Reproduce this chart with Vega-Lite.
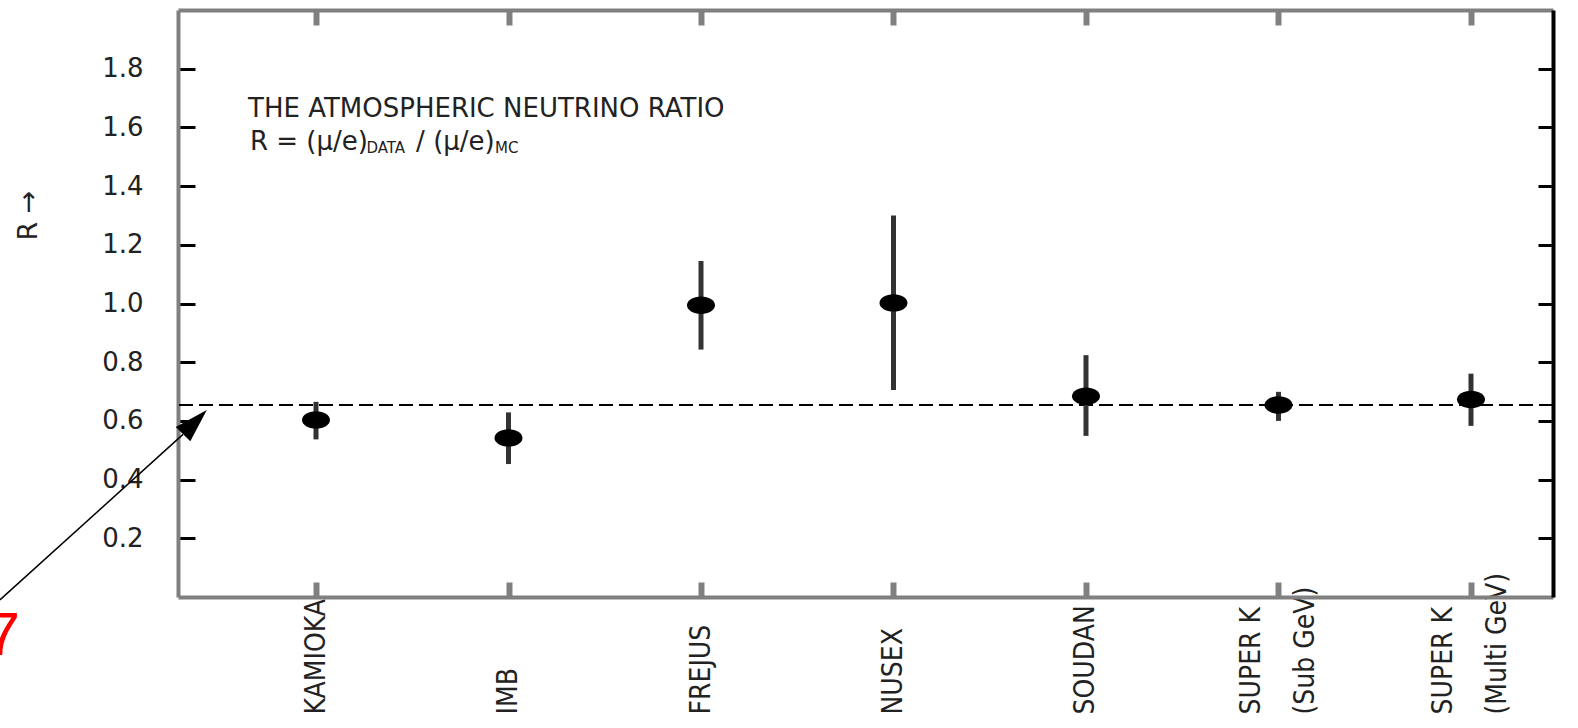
{
  "$schema": "https://vega.github.io/schema/vega-lite/v6.json",
  "width": 1375,
  "height": 587,
  "autosize": {"type": "none"},
  "padding": {"left": 178, "top": 10, "right": 25, "bottom": 131},
  "background": "white",
  "config": {"view": {"stroke": null}},
  "datasets": {
    "exp": [
      {"i": 1, "name": "KAMIOKA", "r": 0.603, "lo": 0.537, "hi": 0.665},
      {"i": 2, "name": "IMB", "r": 0.542, "lo": 0.453, "hi": 0.629},
      {"i": 3, "name": "FREJUS", "r": 0.994, "lo": 0.843, "hi": 1.145},
      {"i": 4, "name": "NUSEX", "r": 1.002, "lo": 0.705, "hi": 1.3},
      {"i": 5, "name": "SOUDAN", "r": 0.684, "lo": 0.549, "hi": 0.824},
      {"i": 6, "name": "SUPER K (Sub GeV)", "r": 0.654, "lo": 0.6, "hi": 0.699},
      {"i": 7, "name": "SUPER K (Multi GeV)", "r": 0.673, "lo": 0.583, "hi": 0.761}
    ],
    "txt": [
      {"x": 0.647, "y": 1.635, "t": "THE ATMOSPHERIC NEUTRINO RATIO"},
      {"x": 0.657, "y": 1.523, "t": "R = (μ/e)"},
      {"x": 1.52, "y": 1.523, "t": "/ (μ/e)"}
    ],
    "sub": [
      {"x": 1.262, "y": 1.512, "t": "DATA"},
      {"x": 1.93, "y": 1.512, "t": "MC"}
    ]
  },
  "resolve": {"axis": {"x": "independent", "y": "independent"}},
  "layer": [
    {
      "data": {"values": [{"ref": 0.654}]},
      "mark": {"type": "rule", "strokeDash": [14, 6], "strokeWidth": 2, "color": "black"},
      "encoding": {"y": {"field": "ref", "type": "quantitative", "axis": null, "scale": {"domain": [0, 2], "nice": false, "zero": false}}}
    },
    {
      "data": {"name": "exp"},
      "mark": {"type": "rule", "strokeWidth": 5, "color": "#333333"},
      "encoding": {
        "x": {
          "field": "i", "type": "quantitative",
          "scale": {"domain": [0.2831, 7.426], "nice": false, "zero": false},
          "axis": {
            "orient": "bottom", "values": [1, 2, 3, 4, 5, 6, 7], "title": null, "grid": false,
            "domainColor": "#808080", "domainWidth": 4,
            "tickColor": "#808080", "tickWidth": 6, "tickSize": -15,
            "labelExpr": "[['KAMIOKA'],['IMB'],['FREJUS'],['NUSEX'],['SOUDAN'],['SUPER K','(Sub GeV)'],['SUPER K','(Multi GeV)']][datum.value-1]",
            "labelAngle": 270, "labelAlign": "left", "labelBaseline": "middle", "labelPadding": 132,
            "labelOffset": {"condition": {"test": "datum.value >= 6", "value": -27}, "value": 0},
            "labelFont": "Liberation Sans Narrow, DejaVu Sans Condensed, sans-serif", "labelFontSize": 28,
            "labelColor": "#222222", "labelLineHeight": 54, "labelOverlap": false, "labelFlush": false, "labelBound": false
          }
        },
        "y": {
          "field": "lo", "type": "quantitative",
          "scale": {"domain": [0, 2], "nice": false, "zero": false},
          "axis": {
            "orient": "left", "values": [0.2, 0.4, 0.6, 0.8, 1.0, 1.2, 1.4, 1.6, 1.8], "format": ".1f", "grid": false,
            "domainColor": "#808080", "domainWidth": 4,
            "tickColor": "black", "tickWidth": 3, "tickSize": -17,
            "labelPadding": 52, "labelFont": "DejaVu Sans", "labelFontSize": 26, "labelColor": "#222222",
            "title": "R →", "titleFont": "DejaVu Sans", "titleFontSize": 27, "titleFontWeight": "normal", "titleColor": "#222222",
            "titleAngle": 270, "titleX": -150, "titleY": 205, "titleAlign": "center", "titleBaseline": "middle"
          }
        },
        "y2": {"field": "hi"}
      }
    },
    {
      "data": {"name": "exp"},
      "mark": {"type": "point", "shape": "M -1 0 A 1 0.62 0 1 0 1 0 A 1 0.62 0 1 0 -1 0 Z", "filled": true, "size": 784, "color": "black", "opacity": 1},
      "encoding": {
        "x": {
          "field": "i", "type": "quantitative",
          "axis": {
            "orient": "top", "values": [1, 2, 3, 4, 5, 6, 7], "labels": false, "title": null, "grid": false,
            "domainColor": "#808080", "domainWidth": 4, "tickColor": "#808080", "tickWidth": 6, "tickSize": -15
          }
        },
        "y": {
          "field": "r", "type": "quantitative",
          "axis": {
            "orient": "right", "values": [0.2, 0.4, 0.6, 0.8, 1.0, 1.2, 1.4, 1.6, 1.8], "labels": false, "title": null, "grid": false,
            "domainColor": "black", "domainWidth": 4, "tickColor": "black", "tickWidth": 3, "tickSize": -15
          }
        }
      }
    },
    {
      "data": {"name": "txt"},
      "mark": {"type": "text", "align": "left", "baseline": "alphabetic", "font": "DejaVu Sans", "fontSize": 26, "color": "#222222"},
      "encoding": {
        "x": {"field": "x", "type": "quantitative", "axis": null},
        "y": {"field": "y", "type": "quantitative", "axis": null},
        "text": {"field": "t"}
      }
    },
    {
      "data": {"name": "sub"},
      "mark": {"type": "text", "align": "left", "baseline": "alphabetic", "font": "DejaVu Sans", "fontSize": 15, "color": "#222222"},
      "encoding": {
        "x": {"field": "x", "type": "quantitative", "axis": null},
        "y": {"field": "y", "type": "quantitative", "axis": null},
        "text": {"field": "t"}
      }
    },
    {
      "data": {"values": [{"x": -0.642, "y": -0.01, "x2": 0.309, "y2": 0.554}]},
      "mark": {"type": "rule", "strokeWidth": 1.5, "color": "black"},
      "encoding": {
        "x": {"field": "x", "type": "quantitative", "axis": null},
        "y": {"field": "y", "type": "quantitative", "axis": null},
        "x2": {"field": "x2"},
        "y2": {"field": "y2"}
      }
    },
    {
      "data": {"values": [{"x": 0.371, "y": 0.596}]},
      "mark": {"type": "point", "shape": "M 0 -1 L 0.6 1 L -0.6 1 Z", "angle": 44.4, "size": 1156, "filled": true, "color": "black", "opacity": 1},
      "encoding": {
        "x": {"field": "x", "type": "quantitative", "axis": null},
        "y": {"field": "y", "type": "quantitative", "axis": null}
      }
    },
    {
      "data": {"values": [{"x": -0.538, "y": -0.198, "t": "7"}]},
      "mark": {"type": "text", "align": "right", "baseline": "alphabetic", "font": "Liberation Sans", "fontSize": 62, "color": "#ff0000"},
      "encoding": {
        "x": {"field": "x", "type": "quantitative", "axis": null},
        "y": {"field": "y", "type": "quantitative", "axis": null},
        "text": {"field": "t"}
      }
    }
  ]
}
